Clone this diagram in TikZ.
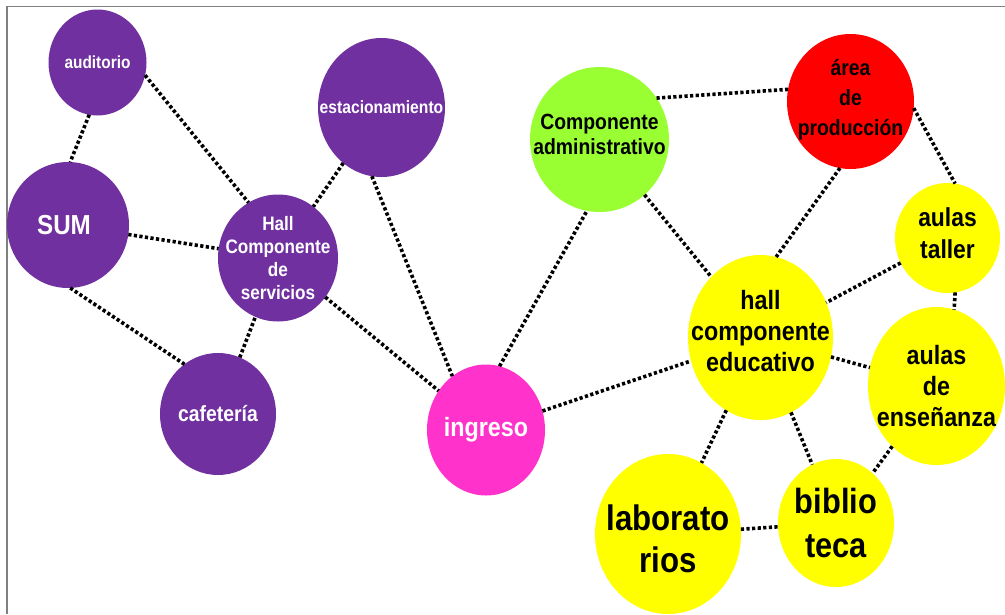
\documentclass[tikz,border=0pt]{standalone}
\usepackage{fontspec}
\setmainfont{Liberation Sans}[FakeStretch=0.88]
\usetikzlibrary{shapes.geometric}

\definecolor{morado}{HTML}{7030A0}
\definecolor{verde}{HTML}{99FF33}
\definecolor{rojo}{HTML}{FF0000}
\definecolor{amarillo}{HTML}{FFFF00}
\definecolor{rosa}{HTML}{FF33CC}

\newcommand{\tam}[2]{\fontsize{#1}{#2}\selectfont\bfseries}

\tikzset{
  bubble/.style={ellipse, draw=none, inner sep=0pt, outer sep=0pt},
  blanco/.style={align=center, text=white, inner sep=0pt},
  negro/.style={align=center, text=black, inner sep=0pt},
  link/.style={line width=3.6pt, dash pattern=on 3.2pt off 2.4pt},
}

\begin{document}
\begin{tikzpicture}[x=1pt,y=-1pt]
  \useasboundingbox (0,0) rectangle (1005,614);
  % marco
  \draw[gray, line width=1.5pt] (7,614) -- (7,6.5) -- (1005,6.5);

  % componente de servicios
  \node[bubble, fill=morado, minimum width=98, minimum height=106,
    label={[blanco, font=\tam{17.5}{20}]center:auditorio}] (aud) at (97.5,62.5) {};
  \node[bubble, fill=morado, minimum width=122, minimum height=126,
    label={[blanco, font=\tam{27.5}{30}, xshift=-4pt]center:SUM}] (sum) at (68,225) {};
  \node[bubble, fill=morado, minimum width=127, minimum height=139,
    label={[blanco, font=\tam{17.8}{20}]center:estacionamiento}] (est) at (381.5,107.5) {};
  \node[bubble, fill=morado, minimum width=120, minimum height=127,
    label={[blanco, font=\tam{19.5}{23.3}]center:Hall\\Componente\\de\\servicios}] (hallserv) at (278,258) {};
  \node[bubble, fill=morado, minimum width=116, minimum height=122,
    label={[blanco, font=\tam{22}{25}]center:cafetería}] (caf) at (218,414) {};

  % ingreso
  \node[bubble, fill=rosa, minimum width=118, minimum height=131,
    label={[blanco, font=\tam{26.5}{30}]center:ingreso}] (ingreso) at (486,430) {};

  % administrativo y produccion
  \node[bubble, fill=verde, minimum width=139, minimum height=145,
    label={[negro, font=\tam{22}{25}, yshift=5pt]center:Componente\\administrativo}] (admin) at (599.5,139.5) {};
  \node[bubble, fill=rojo, minimum width=127, minimum height=135,
    label={[negro, font=\tam{22}{30}, yshift=2pt]center:área\\de\\producción}] (prod) at (850.5,101.5) {};

  % componente educativo
  \node[bubble, fill=amarillo, minimum width=145, minimum height=165,
    label={[negro, font=\tam{26.5}{31}, yshift=6pt]center:hall\\componente\\educativo}] (halledu) at (760.5,337.5) {};
  \node[bubble, fill=amarillo, minimum width=105, minimum height=110,
    label={[negro, font=\tam{26}{32}, yshift=5pt]center:aulas\\taller}] (taller) at (947.5,238) {};
  \node[bubble, fill=amarillo, minimum width=137, minimum height=158,
    label={[negro, font=\tam{26.5}{31}]center:aulas\\de\\enseñanza}] (ensen) at (936.5,386) {};
  \node[bubble, fill=amarillo, minimum width=146, minimum height=160,
    label={[negro, font=\tam{35.5}{42}, yshift=-5pt]center:laborato\\rios}] (lab) at (668,534) {};
  \node[bubble, fill=amarillo, minimum width=116, minimum height=128,
    label={[negro, font=\tam{35}{44}]center:biblio\\teca}] (bib) at (836,523) {};

  % conexiones
  \draw[link] (aud.-99) -- (sum.88);
  \draw[link] (aud.-15) -- (hallserv.118);
  \draw[link] (sum) -- (hallserv);
  \draw[link] (sum.-88) -- (caf.124);
  \draw[link] (caf) -- (hallserv);
  \draw[link] (est) -- (hallserv);
  \draw[link] (est.-98) -- (ingreso.122);
  \draw[link] (hallserv) -- (ingreso);
  \draw[link] (ingreso.78) -- (admin.-100);
  \draw[link] (ingreso) -- (halledu);
  \draw[link] (admin.36) -- (prod.169);
  \draw[link] (admin) -- (halledu);
  \draw[link] (prod.-99) -- (halledu.79);
  \draw[link] (prod.-6) -- (taller.82);
  \draw[link] (taller) -- (halledu);
  \draw[link] (taller.-82) -- (ensen.77);
  \draw[link] (halledu) -- (ensen);
  \draw[link] (halledu) -- (lab);
  \draw[link] (halledu) -- (bib);
  \draw[link] (ensen) -- (bib);
  \draw[link] (lab) -- (bib);
\end{tikzpicture}
\end{document}
